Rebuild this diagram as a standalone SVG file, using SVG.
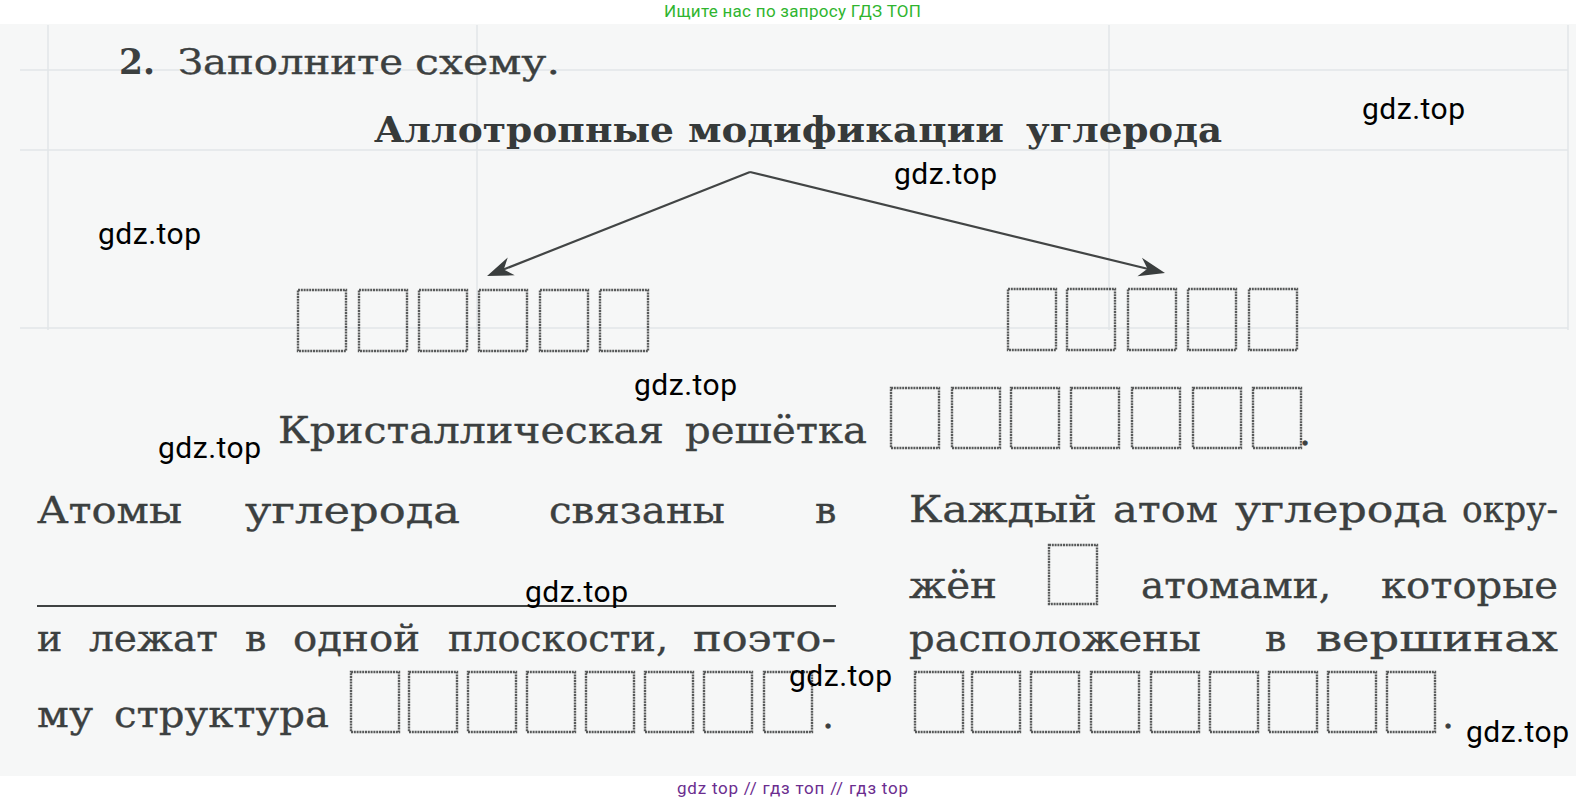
<svg xmlns="http://www.w3.org/2000/svg" width="1587" height="805" viewBox="0 0 1587 805">
<style>
.page{fill:#f6f7f7}
.gline{stroke:#e2e6e8;stroke-width:1.5;fill:none}
.body{font-family:"DejaVu Serif",serif;font-size:38px;fill:#3c4040;stroke:#3c4040;stroke-width:0.35}
.head{font-family:"DejaVu Serif",serif;font-size:36px;fill:#3c4040;stroke:#3c4040;stroke-width:0.35}
.headb{font-family:"DejaVu Serif",serif;font-size:36px;font-weight:bold;fill:#3c4040}
.titleb{font-family:"DejaVu Serif",serif;font-size:36px;font-weight:bold;fill:#363a3a}
.box{fill:none;stroke:#585a5a;stroke-width:2.4;stroke-dasharray:2 0.8}
.wm{font-family:Roboto,"Liberation Sans",sans-serif;font-size:30px;fill:#000}
.green{font-family:Roboto,"Liberation Sans",sans-serif;font-size:17px;fill:#2fb52f}
.purple{font-family:Roboto,"Liberation Sans",sans-serif;font-size:17px;fill:#6b2d8f}
.conn{stroke:#424545;stroke-width:2.2;fill:none}
.rule{stroke:#3f4242;stroke-width:2.2}
</style>
<defs>
<marker id="arrow" markerUnits="userSpaceOnUse" viewBox="-28 -11 30 22" refX="-15" refY="0" markerWidth="30" markerHeight="22" orient="auto">
<path d="M0,0 L-26,-9.5 L-18,0 L-26,9.5 Z" fill="#3a3e3e"/>
</marker>
</defs>
<rect x="0" y="0" width="1587" height="805" fill="#ffffff"/>
<rect class="page" x="0" y="24" width="1576" height="752"/>
<g id="ghost">
<line class="gline" x1="48" y1="25" x2="48" y2="330"/>
<line class="gline" x1="477" y1="25" x2="477" y2="330"/>
<line class="gline" x1="1109" y1="25" x2="1109" y2="330"/>
<line class="gline" x1="1568" y1="25" x2="1568" y2="330"/>
<line class="gline" x1="20" y1="70" x2="1568" y2="70"/>
<line class="gline" x1="20" y1="150" x2="1568" y2="150"/>
<line class="gline" x1="20" y1="328" x2="1568" y2="328"/>
</g>
<g id="site-header">
<text class="green" x="664" y="17" textLength="257">Ищите нас по запросу ГДЗ ТОП</text>
</g>
<g id="task-heading">
<text class="headb" x="119" y="74" textLength="36" lengthAdjust="spacingAndGlyphs">2.</text>
<text class="head" x="178" y="74" textLength="225" lengthAdjust="spacingAndGlyphs">Заполните</text>
<text class="head" x="415" y="74" textLength="145" lengthAdjust="spacingAndGlyphs">схему.</text>
</g>
<g id="root-node">
<text class="titleb" x="374" y="142" textLength="300" lengthAdjust="spacingAndGlyphs">Аллотропные</text>
<text class="titleb" x="688" y="142" textLength="316" lengthAdjust="spacingAndGlyphs">модификации</text>
<text class="titleb" x="1026" y="142" textLength="196" lengthAdjust="spacingAndGlyphs">углерода</text>
</g>
<g id="connectors">
<line class="conn" x1="750" y1="172" x2="501" y2="270.5" marker-end="url(#arrow)"/>
<line class="conn" x1="750" y1="172" x2="1150.4" y2="269.5" marker-end="url(#arrow)"/>
</g>
<g id="node-left">
<rect class="box" x="298" y="290" width="48" height="61"/>
<rect class="box" x="359" y="290" width="48" height="61"/>
<rect class="box" x="419" y="290" width="48" height="61"/>
<rect class="box" x="479" y="290" width="48" height="61"/>
<rect class="box" x="540" y="290" width="48" height="61"/>
<rect class="box" x="600" y="290" width="48" height="61"/>
</g>
<g id="node-right">
<rect class="box" x="1008" y="289" width="48" height="61"/>
<rect class="box" x="1067" y="289" width="48" height="61"/>
<rect class="box" x="1128" y="289" width="48" height="61"/>
<rect class="box" x="1188" y="289" width="48" height="61"/>
<rect class="box" x="1249" y="289" width="48" height="61"/>
</g>
<g id="lattice">
<text class="body" x="278" y="443" textLength="386" lengthAdjust="spacingAndGlyphs">Кристаллическая</text>
<text class="body" x="685" y="443" textLength="182" lengthAdjust="spacingAndGlyphs">решётка</text>
<rect class="box" x="891" y="388" width="48" height="60"/>
<rect class="box" x="952" y="388" width="48" height="60"/>
<rect class="box" x="1011" y="388" width="48" height="60"/>
<rect class="box" x="1071" y="388" width="48" height="60"/>
<rect class="box" x="1132" y="388" width="48" height="60"/>
<rect class="box" x="1193" y="388" width="48" height="60"/>
<rect class="box" x="1253" y="388" width="48" height="60"/>
<text class="body" x="1299" y="445">.</text>
</g>
<g id="left-paragraph">
<text class="body" x="37" y="523" textLength="145" lengthAdjust="spacingAndGlyphs">Атомы</text>
<text class="body" x="245" y="523" textLength="215" lengthAdjust="spacingAndGlyphs">углерода</text>
<text class="body" x="549" y="523" textLength="176" lengthAdjust="spacingAndGlyphs">связаны</text>
<text class="body" x="815" y="523">в</text>
<line class="rule" x1="37" y1="606" x2="836" y2="606"/>
<text class="body" x="37" y="651">и</text>
<text class="body" x="89" y="651" textLength="129" lengthAdjust="spacingAndGlyphs">лежат</text>
<text class="body" x="245" y="651">в</text>
<text class="body" x="293" y="651" textLength="127" lengthAdjust="spacingAndGlyphs">одной</text>
<text class="body" x="448" y="651" textLength="220" lengthAdjust="spacingAndGlyphs">плоскости,</text>
<text class="body" x="693" y="651" textLength="143" lengthAdjust="spacingAndGlyphs">поэто-</text>
<text class="body" x="37" y="727" textLength="56" lengthAdjust="spacingAndGlyphs">му</text>
<text class="body" x="114" y="727" textLength="215" lengthAdjust="spacingAndGlyphs">структура</text>
<rect class="box" x="351" y="672" width="48" height="60"/>
<rect class="box" x="409" y="672" width="48" height="60"/>
<rect class="box" x="468" y="672" width="48" height="60"/>
<rect class="box" x="527" y="672" width="48" height="60"/>
<rect class="box" x="586" y="672" width="48" height="60"/>
<rect class="box" x="645" y="672" width="48" height="60"/>
<rect class="box" x="704" y="672" width="48" height="60"/>
<rect class="box" x="764" y="672" width="48" height="60"/>
<text class="body" x="822" y="728">.</text>
</g>
<g id="right-paragraph">
<text class="body" x="909" y="522" textLength="188" lengthAdjust="spacingAndGlyphs">Каждый</text>
<text class="body" x="1113" y="522" textLength="105" lengthAdjust="spacingAndGlyphs">атом</text>
<text class="body" x="1235" y="522" textLength="212" lengthAdjust="spacingAndGlyphs">углерода</text>
<text class="body" x="1462" y="522" textLength="96" lengthAdjust="spacingAndGlyphs">окру-</text>
<text class="body" x="909" y="598" textLength="88" lengthAdjust="spacingAndGlyphs">жён</text>
<rect class="box" x="1049" y="545" width="48" height="59"/>
<text class="body" x="1141" y="598" textLength="190" lengthAdjust="spacingAndGlyphs">атомами,</text>
<text class="body" x="1381" y="598" textLength="177" lengthAdjust="spacingAndGlyphs">которые</text>
<text class="body" x="909" y="651" textLength="292" lengthAdjust="spacingAndGlyphs">расположены</text>
<text class="body" x="1265" y="651">в</text>
<text class="body" x="1316" y="651" textLength="242" lengthAdjust="spacingAndGlyphs">вершинах</text>
<rect class="box" x="915" y="672" width="48" height="60"/>
<rect class="box" x="972" y="672" width="48" height="60"/>
<rect class="box" x="1031" y="672" width="48" height="60"/>
<rect class="box" x="1091" y="672" width="48" height="60"/>
<rect class="box" x="1151" y="672" width="48" height="60"/>
<rect class="box" x="1210" y="672" width="48" height="60"/>
<rect class="box" x="1269" y="672" width="48" height="60"/>
<rect class="box" x="1328" y="672" width="48" height="60"/>
<rect class="box" x="1387" y="672" width="48" height="60"/>
<text class="body" x="1442" y="728">.</text>
</g>
<g id="watermarks">
<text class="wm" x="1362" y="119" textLength="103">gdz.top</text>
<text class="wm" x="894" y="184" textLength="103">gdz.top</text>
<text class="wm" x="98" y="244" textLength="103">gdz.top</text>
<text class="wm" x="634" y="395" textLength="103">gdz.top</text>
<text class="wm" x="158" y="458" textLength="103">gdz.top</text>
<text class="wm" x="525" y="602" textLength="103">gdz.top</text>
<text class="wm" x="789" y="686" textLength="103">gdz.top</text>
<text class="wm" x="1466" y="742" textLength="103">gdz.top</text>
</g>
<g id="site-footer">
<text class="purple" x="677" y="794" textLength="231">gdz top  //  гдз топ  //  гдз top</text>
</g>
</svg>
